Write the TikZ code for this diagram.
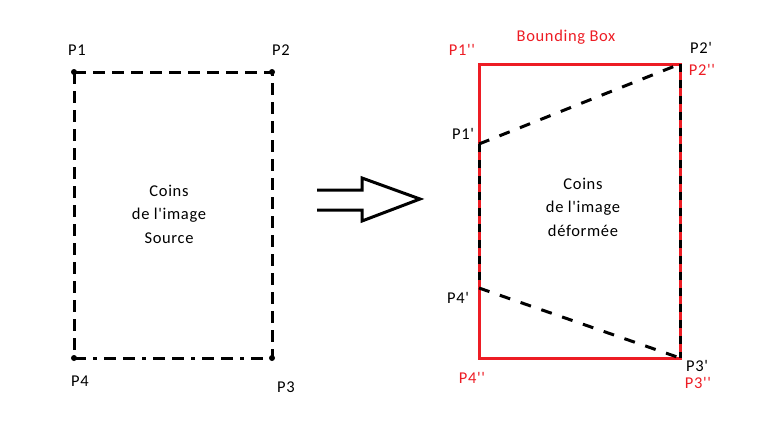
\documentclass[tikz,border=0pt]{standalone}
\usepackage{fontspec}
\setmainfont{Carlito}[Ligatures=TeXOff, LetterSpace=4]
\definecolor{pred}{RGB}{237,28,36}
\begin{document}
\begin{tikzpicture}[x=1pt,y=-1pt,
  lbl/.style={font=\fontsize{16.5}{18}\selectfont, inner sep=0pt},
  rlbl/.style={lbl, text=pred},
  corner/.style={circle, fill=black, inner sep=0pt, minimum size=6pt},
  pt/.style={inner sep=0pt, minimum size=0pt},
  srcline/.style={line width=3pt, dash pattern=on 12pt off 7pt},
  defline/.style={line width=3pt, dash pattern=on 11pt off 11pt},
  bbox/.style={pred, line width=3pt},
  body/.style={lbl, align=center, font=\fontsize{16.5}{23.5}\selectfont}]
\useasboundingbox (0,0) rectangle (767,439);
% left source rectangle
\node[corner] (p1) at (74,72) {};
\node[corner] (p2) at (272,72) {};
\node[corner] (p3) at (272,358) {};
\node[corner] (p4) at (74,358) {};
\draw[srcline] (p1.center) -- (p2.center) -- (p3.center);
\draw[srcline] (p1.center) -- (p4.center);
\draw[line width=3pt, dash pattern=on 12pt off 7pt on 4pt off 7pt on 12pt off 7pt] (p4.center) -- (p3.center);
\node[lbl] (l1) at (77,50) {P1};
\node[lbl] (l2) at (281,50) {P2};
\node[lbl] (l4) at (80,381) {P4};
\node[lbl] (l3) at (286,387) {P3};
\node[body] (src) at (169,214) {Coins\\ de l'image\\Source};
% arrow
\coordinate (a1) at (317,190);
\coordinate (a2) at (362,190);
\coordinate (a3) at (362,178);
\coordinate (a4) at (420,199);
\coordinate (a5) at (362,221);
\coordinate (a6) at (362,210);
\coordinate (a7) at (317,210);
\draw[line width=3pt, line join=miter] (a1) -- (a2) -- (a3) -- (a4) -- (a5) -- (a6) -- (a7);
% right side
\node[pt] (q1) at (479,64) {};
\node[pt] (q2) at (680,64) {};
\node[pt] (q3) at (680,358) {};
\node[pt] (q4) at (479,358) {};
\node[pt] (r1) at (479,144) {};
\node[pt] (r4) at (479,288) {};
\draw[bbox, line join=miter] (q1.center) -- (q2.center) -- (q3.center) -- (q4.center) -- cycle;
\draw[defline] (r1.center) -- (q2.center);
\draw[defline] (r4.center) -- (q3.center);
\draw[line width=3pt, dash pattern=on 8pt off 8pt] (q2.center) -- (q3.center);
\draw[line width=3pt, dash pattern=on 8pt off 8pt] (r1.center) -- (r4.center);
\node[rlbl] (bb) at (566,37) {Bounding Box};
\node[rlbl] (m1) at (462,50) {P1''};
\node[lbl] (n2) at (701,48) {P2'};
\node[rlbl] (m2) at (702,70) {P2''};
\node[lbl] (n1) at (463,134) {P1'};
\node[lbl] (n4) at (458,298) {P4'};
\node[rlbl] (m4) at (472,378) {P4''};
\node[lbl] (n3) at (697,366) {P3'};
\node[rlbl] (m3) at (698,383) {P3''};
\node[body] (dst) at (583,207) {Coins\\ de l'image\\déformée};
\end{tikzpicture}
\end{document}
